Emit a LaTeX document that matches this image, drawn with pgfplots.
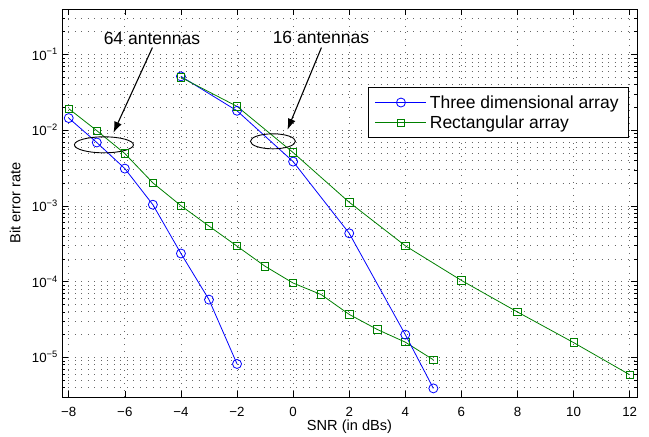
\documentclass[border=0pt]{standalone}
\usepackage{fontspec}
\setmainfont{Liberation Sans}
\usepackage{pgfplots}
\pgfplotsset{compat=1.18}
\usetikzlibrary{arrows.meta}
\definecolor{mblue}{rgb}{0,0,1}
\definecolor{mgreen}{rgb}{0,0.5,0}
\begin{document}
\begin{tikzpicture}
\begin{semilogyaxis}[
  at={(0,0)}, anchor=south west,
  scale only axis, width=575bp, height=388bp,
  xmin=-8.24, xmax=12.26, ymin=3e-6, ymax=0.4,
  xtick={-8,-6,-4,-2,0,2,4,6,8,10,12},
  xticklabels={−8,−6,−4,−2,0,2,4,6,8,10,12},
  ytick={1e-5,1e-4,1e-3,1e-2,1e-1},
  yticklabels={10\textsuperscript{−5},10\textsuperscript{−4},10\textsuperscript{−3},10\textsuperscript{−2},10\textsuperscript{−1}},
  minor ytick={4e-6,5e-6,6e-6,7e-6,8e-6,9e-6,2e-5,3e-5,4e-5,5e-5,6e-5,7e-5,8e-5,9e-5,2e-4,3e-4,4e-4,5e-4,6e-4,7e-4,8e-4,9e-4,2e-3,3e-3,4e-3,5e-3,6e-3,7e-3,8e-3,9e-3,2e-2,3e-2,4e-2,5e-2,6e-2,7e-2,8e-2,9e-2,2e-1,3e-1,4e-1},
  tick label style={font=\fontsize{13.3bp}{16bp}\selectfont},
  xticklabel style={anchor=base, inner sep=0bp, yshift=-19bp},
  yticklabel style={anchor=base east, inner sep=0bp, xshift=-4bp, yshift=-5.5bp},
  label style={font=\fontsize{14.6bp}{17bp}\selectfont},
  xlabel={SNR (in dBs)},
  ylabel={Bit error rate},
  xlabel style={at={(axis description cs:0.5,-0.08505)}, anchor=base, inner sep=0bp},
  ylabel style={at={(axis description cs:-0.0722,0.5)}, anchor=base, inner sep=0bp},
  xmajorgrids=true, ymajorgrids=true, yminorgrids=true,
  major grid style={black!60, line width=0.8bp, dash pattern=on 0.9bp off 5.6bp},
  minor grid style={black!60, line width=0.8bp, dash pattern=on 0.9bp off 5.6bp},
  major tick length=6bp, minor tick length=3bp,
  tick style={black, line width=0.6bp},
  axis line style={black, line width=0.9bp},
  every axis plot/.append style={line width=0.8bp},
  legend image code/.code={\draw[mark repeat=2,mark phase=2] plot coordinates {(0bp,0bp) (25.5bp,0bp) (51bp,0bp)};},
  legend style={at={(axis description cs:0.9861,0.799)}, anchor=north east,
    draw=black, line width=0.9bp, fill=white,
    font=\fontsize{17.5bp}{21bp}\selectfont,
    inner xsep=7bp, inner ysep=7bp, row sep=4bp,
    nodes={inner xsep=3bp, inner ysep=1bp}},
  legend cell align=left,
  clip=false,
]
\addplot[color=mblue, mark=o, mark size=4.5bp, mark options={line width=0.8bp}] coordinates {
(-8,0.01449) (-7,0.0069) (-6,0.00312) (-5,0.00104) (-4,2.36e-4) (-3,5.8e-5) (-2,8.2e-6)};
\addlegendentry{Three dimensional array}
\addplot[color=mgreen, mark=square, mark size=3.7bp, mark options={line width=0.8bp}] coordinates {
(-8,0.0193) (-7,0.0099) (-6,0.00493) (-5,0.00202) (-4,0.00101) (-3,5.43e-4) (-2,2.95e-4) (-1,1.6e-4) (0,9.6e-5) (1,6.76e-5) (2,3.7e-5) (3,2.34e-5) (4,1.59e-5) (5,9.3e-6)};
\addlegendentry{Rectangular array}
\addplot[color=mblue, mark=o, mark size=4.5bp, mark options={line width=0.8bp}, forget plot] coordinates {
(-4,0.0516) (-2,0.0181) (0,0.00386) (2,4.36e-4) (4,2.0e-5) (5,3.9e-6)};
\addplot[color=mgreen, mark=square, mark size=3.7bp, mark options={line width=0.8bp}, forget plot] coordinates {
(-4,0.050) (-2,0.0207) (0,0.00508) (2,0.00112) (4,2.98e-4) (6,1.04e-4) (8,3.98e-5) (10,1.57e-5) (12,5.9e-6)};
\draw[black, line width=0.9bp] (axis cs:-6.745,0.00643) ellipse [x radius=29.5bp, y radius=8bp];
\draw[black, line width=0.9bp] (axis cs:-0.72,0.00715) ellipse [x radius=22.5bp, y radius=7.5bp];
\draw[black, line width=1.1bp, -{Latex[length=11bp,width=8bp]}] (axis cs:-5.016,0.124) -- (axis cs:-6.406,0.00927);
\draw[black, line width=1.1bp, -{Latex[length=11bp,width=8bp]}] (axis cs:1.01,0.124) -- (axis cs:-0.203,0.01016);
\node[anchor=base, inner sep=0bp, font=\fontsize{17.5bp}{21bp}\selectfont] at (axis cs:-5.034,0.1357) {64 antennas};
\node[anchor=base, inner sep=0bp, font=\fontsize{17.5bp}{21bp}\selectfont] at (axis cs:0.991,0.14) {16 antennas};
\end{semilogyaxis}
\pgfresetboundingbox
\path (-62bp,-40bp) rectangle (587bp,397bp);
\end{tikzpicture}
\end{document}
